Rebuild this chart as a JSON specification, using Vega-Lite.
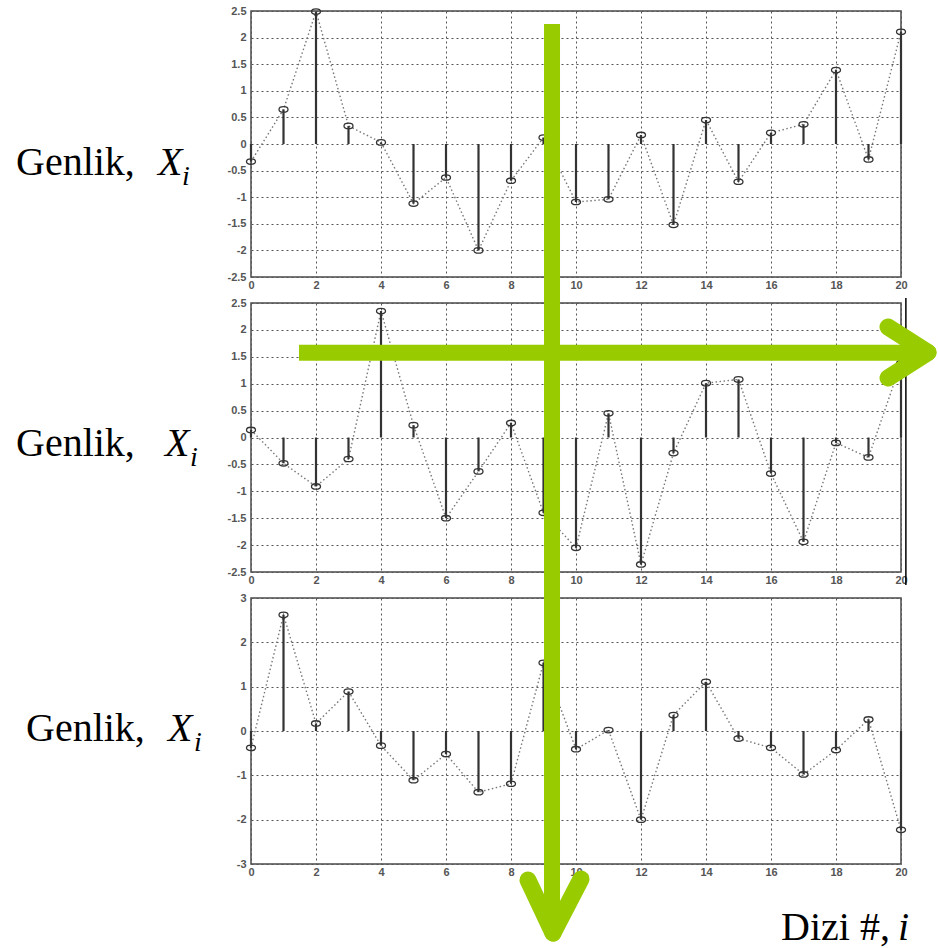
{
  "$schema": "https://vega.github.io/schema/vega-lite/v6.json",
  "padding": {"left": 15, "top": 4, "right": 0, "bottom": 0},
  "background": "white",
  "bounds": "flush",
  "spacing": 26,
  "config": {
    "view": {"stroke": "#4a4a4a", "strokeWidth": 1.5},
    "axis": {
      "grid": true, "gridColor": "#555", "gridDash": [2, 3], "gridWidth": 1, "gridOpacity": 1,
      "domain": false, "ticks": false, "title": null, "labelOverlap": false, "labelBound": false, "labelFlush": false,
      "labelFont": "Liberation Sans", "labelFontSize": 11, "labelFontWeight": "bold", "labelColor": "#555"
    }
  },
  "datasets": {
    "s1": [
      {"i": 0, "x": -0.33}, {"i": 1, "x": 0.65}, {"i": 2, "x": 2.49}, {"i": 3, "x": 0.34}, {"i": 4, "x": 0.03},
      {"i": 5, "x": -1.12}, {"i": 6, "x": -0.63}, {"i": 7, "x": -2.0}, {"i": 8, "x": -0.69}, {"i": 9, "x": 0.12},
      {"i": 10, "x": -1.09}, {"i": 11, "x": -1.04}, {"i": 12, "x": 0.17}, {"i": 13, "x": -1.52}, {"i": 14, "x": 0.45},
      {"i": 15, "x": -0.71}, {"i": 16, "x": 0.21}, {"i": 17, "x": 0.37}, {"i": 18, "x": 1.39}, {"i": 19, "x": -0.29},
      {"i": 20, "x": 2.11}
    ],
    "s2": [
      {"i": 0, "x": 0.14}, {"i": 1, "x": -0.48}, {"i": 2, "x": -0.91}, {"i": 3, "x": -0.40}, {"i": 4, "x": 2.35},
      {"i": 5, "x": 0.23}, {"i": 6, "x": -1.50}, {"i": 7, "x": -0.63}, {"i": 8, "x": 0.27}, {"i": 9, "x": -1.40},
      {"i": 10, "x": -2.05}, {"i": 11, "x": 0.45}, {"i": 12, "x": -2.36}, {"i": 13, "x": -0.29}, {"i": 14, "x": 1.01},
      {"i": 15, "x": 1.08}, {"i": 16, "x": -0.67}, {"i": 17, "x": -1.94}, {"i": 18, "x": -0.10}, {"i": 19, "x": -0.37},
      {"i": 20, "x": 1.38}
    ],
    "s3": [
      {"i": 0, "x": -0.38}, {"i": 1, "x": 2.62}, {"i": 2, "x": 0.17}, {"i": 3, "x": 0.89}, {"i": 4, "x": -0.33},
      {"i": 5, "x": -1.11}, {"i": 6, "x": -0.52}, {"i": 7, "x": -1.38}, {"i": 8, "x": -1.19}, {"i": 9, "x": 1.54},
      {"i": 10, "x": -0.41}, {"i": 11, "x": 0.02}, {"i": 12, "x": -2.0}, {"i": 13, "x": 0.36}, {"i": 14, "x": 1.11},
      {"i": 15, "x": -0.17}, {"i": 16, "x": -0.38}, {"i": 17, "x": -0.98}, {"i": 18, "x": -0.43}, {"i": 19, "x": 0.26},
      {"i": 20, "x": -2.23}
    ]
  },
  "vconcat": [
    {
      "width": 650, "height": 266,
      "layer": [
        {"data": {"name": "s1"}, "mark": {"type": "line", "color": "#777", "strokeWidth": 1.4, "strokeDash": [1.5, 2.5]},
         "encoding": {
           "x": {"field": "i", "type": "quantitative", "scale": {"domain": [0, 20], "nice": false}, "axis": {"title": null, "values": [0,2,4,6,8,10,12,14,16,18,20], "tickCount": 11, "labelPadding": 2}},
           "y": {"field": "x", "type": "quantitative", "scale": {"domain": [-2.5, 2.5], "nice": false}, "axis": {"title": null, "values": [-2.5,-2,-1.5,-1,-0.5,0,0.5,1,1.5,2,2.5], "tickCount": 11, "labelPadding": 5, "labelExpr": "toString(datum.value)"}}
         }},
        {"data": {"name": "s1"}, "mark": {"type": "rule", "color": "#333", "strokeWidth": 2.2},
         "encoding": {"x": {"field": "i", "type": "quantitative"}, "y": {"field": "x", "type": "quantitative"}, "y2": {"datum": 0}}},
        {"data": {"name": "s1"}, "mark": {"type": "point", "shape": "M -1 0 A 1 0.6 0 1 1 1 0 A 1 0.6 0 1 1 -1 0 Z", "size": 81, "filled": false, "color": "#333", "strokeWidth": 1.3, "opacity": 1},
         "encoding": {"x": {"field": "i", "type": "quantitative"}, "y": {"field": "x", "type": "quantitative"}}},
        {"data": {"values": [{"t": "Genlik,"}]}, "mark": {"type": "text", "font": "Liberation Serif", "fontSize": 40, "align": "left", "baseline": "alphabetic", "color": "black"},
         "encoding": {"x": {"datum": -7.231, "type": "quantitative"}, "y": {"datum": -0.583, "type": "quantitative"}, "text": {"field": "t"}}},
        {"data": {"values": [{"t": "X"}]}, "mark": {"type": "text", "font": "Liberation Serif", "fontSize": 40, "fontStyle": "italic", "align": "left", "baseline": "alphabetic", "color": "black"},
         "encoding": {"x": {"datum": -2.862, "type": "quantitative"}, "y": {"datum": -0.583, "type": "quantitative"}, "text": {"field": "t"}}},
        {"data": {"values": [{"t": "i"}]}, "mark": {"type": "text", "font": "Liberation Serif", "fontSize": 28, "fontStyle": "italic", "align": "left", "baseline": "alphabetic", "color": "black"},
         "encoding": {"x": {"datum": -2.123, "type": "quantitative"}, "y": {"datum": -0.771, "type": "quantitative"}, "text": {"field": "t"}}}
      ]
    },
    {
      "width": 650, "height": 269,
      "layer": [
        {"data": {"name": "s2"}, "mark": {"type": "line", "color": "#777", "strokeWidth": 1.4, "strokeDash": [1.5, 2.5]},
         "encoding": {
           "x": {"field": "i", "type": "quantitative", "scale": {"domain": [0, 20], "nice": false}, "axis": {"title": null, "values": [0,2,4,6,8,10,12,14,16,18,20], "tickCount": 11, "labelPadding": 2}},
           "y": {"field": "x", "type": "quantitative", "scale": {"domain": [-2.5, 2.5], "nice": false}, "axis": {"title": null, "values": [-2.5,-2,-1.5,-1,-0.5,0,0.5,1,1.5,2,2.5], "tickCount": 11, "labelPadding": 5, "labelExpr": "toString(datum.value)"}}
         }},
        {"data": {"name": "s2"}, "mark": {"type": "rule", "color": "#333", "strokeWidth": 2.2},
         "encoding": {"x": {"field": "i", "type": "quantitative"}, "y": {"field": "x", "type": "quantitative"}, "y2": {"datum": 0}}},
        {"data": {"name": "s2"}, "mark": {"type": "point", "shape": "M -1 0 A 1 0.6 0 1 1 1 0 A 1 0.6 0 1 1 -1 0 Z", "size": 81, "filled": false, "color": "#333", "strokeWidth": 1.3, "opacity": 1},
         "encoding": {"x": {"field": "i", "type": "quantitative"}, "y": {"field": "x", "type": "quantitative"}}},
        {"data": {"values": [{"t": "Genlik,"}]}, "mark": {"type": "text", "font": "Liberation Serif", "fontSize": 40, "align": "left", "baseline": "alphabetic", "color": "black"},
         "encoding": {"x": {"datum": -7.231, "type": "quantitative"}, "y": {"datum": -0.344, "type": "quantitative"}, "text": {"field": "t"}}},
        {"data": {"values": [{"t": "X"}]}, "mark": {"type": "text", "font": "Liberation Serif", "fontSize": 40, "fontStyle": "italic", "align": "left", "baseline": "alphabetic", "color": "black"},
         "encoding": {"x": {"datum": -2.646, "type": "quantitative"}, "y": {"datum": -0.344, "type": "quantitative"}, "text": {"field": "t"}}},
        {"data": {"values": [{"t": "i"}]}, "mark": {"type": "text", "font": "Liberation Serif", "fontSize": 28, "fontStyle": "italic", "align": "left", "baseline": "alphabetic", "color": "black"},
         "encoding": {"x": {"datum": -1.877, "type": "quantitative"}, "y": {"datum": -0.53, "type": "quantitative"}, "text": {"field": "t"}}},
        {"data": {"values": [{}]}, "mark": {"type": "rule", "color": "black", "strokeWidth": 1.5},
         "encoding": {"x": {"datum": 20.15, "type": "quantitative"}, "y": {"datum": 2.593, "type": "quantitative"}, "y2": {"datum": -2.742}}},
        {"data": {"values": [{}]}, "mark": {"type": "rule", "color": "#99CC00", "strokeWidth": 16, "strokeCap": "butt"},
         "encoding": {"x": {"datum": 1.477, "type": "quantitative"}, "x2": {"datum": 20.7}, "y": {"datum": 1.575, "type": "quantitative"}, "y2": {"datum": 1.575}}},
        {"data": {"values": [{}]}, "mark": {"type": "rule", "color": "#99CC00", "strokeWidth": 17, "strokeCap": "round"},
         "encoding": {"x": {"datum": 19.6, "type": "quantitative"}, "x2": {"datum": 20.83}, "y": {"datum": 2.054, "type": "quantitative"}, "y2": {"datum": 1.58}}},
        {"data": {"values": [{}]}, "mark": {"type": "rule", "color": "#99CC00", "strokeWidth": 17, "strokeCap": "round"},
         "encoding": {"x": {"datum": 19.6, "type": "quantitative"}, "x2": {"datum": 20.83}, "y": {"datum": 1.106, "type": "quantitative"}, "y2": {"datum": 1.58}}}
      ]
    },
    {
      "width": 650, "height": 266,
      "layer": [
        {"data": {"name": "s3"}, "mark": {"type": "line", "color": "#777", "strokeWidth": 1.4, "strokeDash": [1.5, 2.5]},
         "encoding": {
           "x": {"field": "i", "type": "quantitative", "scale": {"domain": [0, 20], "nice": false}, "axis": {"title": null, "values": [0,2,4,6,8,10,12,14,16,18,20], "tickCount": 11, "labelPadding": 2}},
           "y": {"field": "x", "type": "quantitative", "scale": {"domain": [-3, 3], "nice": false}, "axis": {"title": null, "values": [-3,-2,-1,0,1,2,3], "tickCount": 7, "labelPadding": 5, "labelExpr": "toString(datum.value)"}}
         }},
        {"data": {"name": "s3"}, "mark": {"type": "rule", "color": "#333", "strokeWidth": 2.2},
         "encoding": {"x": {"field": "i", "type": "quantitative"}, "y": {"field": "x", "type": "quantitative"}, "y2": {"datum": 0}}},
        {"data": {"name": "s3"}, "mark": {"type": "point", "shape": "M -1 0 A 1 0.6 0 1 1 1 0 A 1 0.6 0 1 1 -1 0 Z", "size": 81, "filled": false, "color": "#333", "strokeWidth": 1.3, "opacity": 1},
         "encoding": {"x": {"field": "i", "type": "quantitative"}, "y": {"field": "x", "type": "quantitative"}}},
        {"data": {"values": [{"t": "Genlik,"}]}, "mark": {"type": "text", "font": "Liberation Serif", "fontSize": 40, "align": "left", "baseline": "alphabetic", "color": "black"},
         "encoding": {"x": {"datum": -6.923, "type": "quantitative"}, "y": {"datum": -0.226, "type": "quantitative"}, "text": {"field": "t"}}},
        {"data": {"values": [{"t": "X"}]}, "mark": {"type": "text", "font": "Liberation Serif", "fontSize": 40, "fontStyle": "italic", "align": "left", "baseline": "alphabetic", "color": "black"},
         "encoding": {"x": {"datum": -2.554, "type": "quantitative"}, "y": {"datum": -0.226, "type": "quantitative"}, "text": {"field": "t"}}},
        {"data": {"values": [{"t": "i"}]}, "mark": {"type": "text", "font": "Liberation Serif", "fontSize": 28, "fontStyle": "italic", "align": "left", "baseline": "alphabetic", "color": "black"},
         "encoding": {"x": {"datum": -1.754, "type": "quantitative"}, "y": {"datum": -0.451, "type": "quantitative"}, "text": {"field": "t"}}},
        {"data": {"values": [{"t": "Dizi #,"}]}, "mark": {"type": "text", "font": "Liberation Serif", "fontSize": 40, "align": "left", "baseline": "alphabetic", "color": "black"},
         "encoding": {"x": {"datum": 16.31, "type": "quantitative"}, "y": {"datum": -4.715, "type": "quantitative"}, "text": {"field": "t"}}},
        {"data": {"values": [{"t": "i"}]}, "mark": {"type": "text", "font": "Liberation Serif", "fontSize": 40, "fontStyle": "italic", "align": "left", "baseline": "alphabetic", "color": "black"},
         "encoding": {"x": {"datum": 19.91, "type": "quantitative"}, "y": {"datum": -4.715, "type": "quantitative"}, "text": {"field": "t"}}},
        {"data": {"values": [{}]}, "mark": {"type": "rule", "color": "#99CC00", "strokeWidth": 16, "strokeCap": "butt"},
         "encoding": {"x": {"datum": 9.262, "type": "quantitative"}, "x2": {"datum": 9.262}, "y": {"datum": 15.948, "type": "quantitative"}, "y2": {"datum": -4.3}}},
        {"data": {"values": [{}]}, "mark": {"type": "rule", "color": "#99CC00", "strokeWidth": 17, "strokeCap": "round"},
         "encoding": {"x": {"datum": 8.523, "type": "quantitative"}, "x2": {"datum": 9.292}, "y": {"datum": -3.361, "type": "quantitative"}, "y2": {"datum": -4.557}}},
        {"data": {"values": [{}]}, "mark": {"type": "rule", "color": "#99CC00", "strokeWidth": 17, "strokeCap": "round"},
         "encoding": {"x": {"datum": 10.154, "type": "quantitative"}, "x2": {"datum": 9.292}, "y": {"datum": -3.339, "type": "quantitative"}, "y2": {"datum": -4.557}}}
      ]
    }
  ]
}
